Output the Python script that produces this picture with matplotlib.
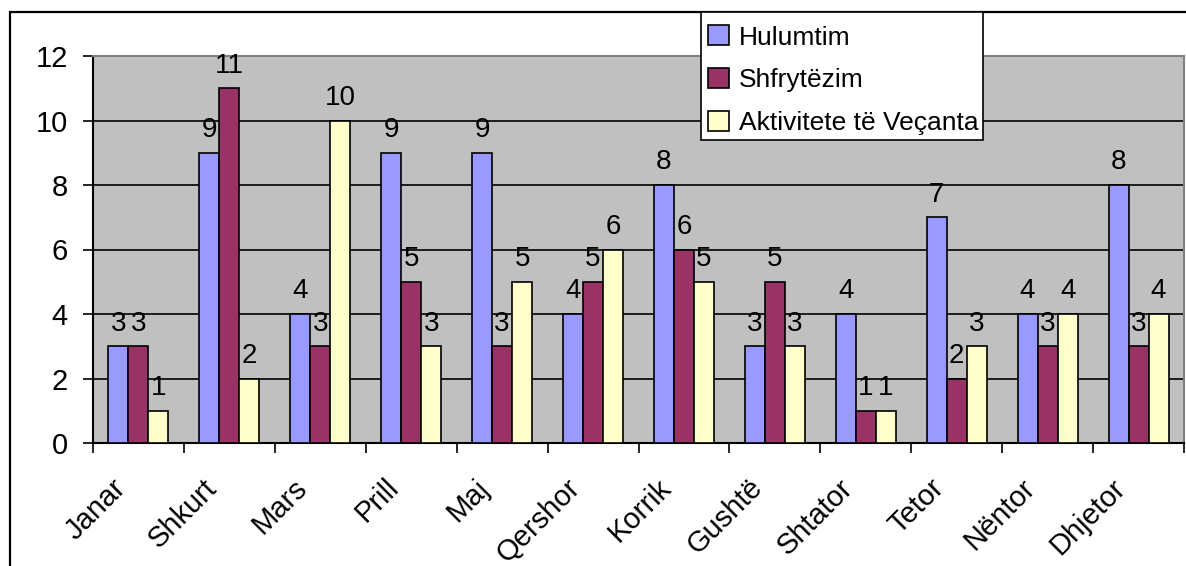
import numpy as np
import matplotlib.pyplot as plt
import matplotlib.transforms as mtransforms
from matplotlib.patches import Rectangle

# Data
months = ['Janar', 'Shkurt', 'Mars', 'Prill', 'Maj', 'Qershor',
          'Korrik', 'Gushtë', 'Shtator', 'Tetor', 'Nëntor', 'Dhjetor']
hulumtim = [3, 9, 4, 9, 9, 4, 8, 3, 4, 7, 4, 8]
shfrytezim = [3, 11, 3, 5, 3, 5, 6, 5, 1, 2, 3, 3]
aktivitete = [1, 2, 10, 3, 5, 6, 5, 3, 1, 3, 4, 4]
series_names = ['Hulumtim', 'Shfrytëzim', 'Aktivitete të Veçanta']
colors = ['#9999FF', '#993366', '#FFFFCC']

plt.rcParams['font.family'] = ['Liberation Sans', 'DejaVu Sans']

W, H = 1186, 566
fig = plt.figure(figsize=(W / 100, H / 100), dpi=100)
ax = fig.add_axes([93 / W, (H - 443) / H, (1184 - 93) / W, (443 - 56) / H])
ax.set_facecolor('#C0C0C0')

x = np.arange(len(months))
w = 0.22
for i, (vals, name) in enumerate(zip([hulumtim, shfrytezim, aktivitete], series_names)):
    b = ax.bar(x + (i - 1) * w, vals, w, color=colors[i], edgecolor='black',
               linewidth=1.2, label=name, zorder=3)
    ax.bar_label(b, fontsize=20, padding=7)

ax.set_xlim(-0.5, len(months) - 0.5)
ax.set_ylim(0, 12)
ax.set_yticks(range(0, 13, 2))
ax.yaxis.grid(True, color='black', linewidth=1.2, zorder=0)
ax.set_axisbelow(True)

# ticks between categories, labels centred
ax.set_xticks(np.arange(-0.5, len(months), 1))
ax.set_xticklabels([])
ax.set_xticks(x, minor=True)
ax.set_xticklabels(months, minor=True, rotation=45, ha='right', va='top',
                   rotation_mode='anchor', fontsize=21)
ax.tick_params(axis='x', which='minor', length=0, pad=22)
ax.tick_params(axis='x', which='major', direction='out', length=7, width=1.2)
ax.tick_params(axis='y', direction='out', length=7, width=1.2, labelsize=21, pad=11)

shift = mtransforms.ScaledTranslation(-0.27, 0, fig.dpi_scale_trans)
for lab in ax.get_xticklabels(minor=True):
    lab.set_transform(lab.get_transform() + shift)

for s in ['left', 'bottom']:
    ax.spines[s].set_color('black')
    ax.spines[s].set_linewidth(1.5)
for s in ['top', 'right']:
    ax.spines[s].set_color('#808080')
    ax.spines[s].set_linewidth(1.5)

# outer chart frame
fig.patches.append(Rectangle((10 / W, -0.2), 1.2, (H - 12) / H + 0.2,
                             transform=fig.transFigure, fill=False,
                             edgecolor='black', linewidth=1.6, zorder=0))

# legend box drawn by hand, entries placed inside it
fig.patches.append(Rectangle((701 / W, 1 - 140 / H), (983 - 701) / W, 128 / H,
                             transform=fig.transFigure, facecolor='white',
                             edgecolor='black', linewidth=1.2, zorder=4))
leg = fig.legend(loc='upper left', bbox_to_anchor=(703 / W, 1 - 20 / H),
                 borderaxespad=0, fontsize=19, frameon=False,
                 handlelength=0.8, handleheight=0.8, handletextpad=0.35,
                 labelspacing=0.7, borderpad=0.2)
leg.set_zorder(5)

fig.savefig('out.png', dpi=100)
